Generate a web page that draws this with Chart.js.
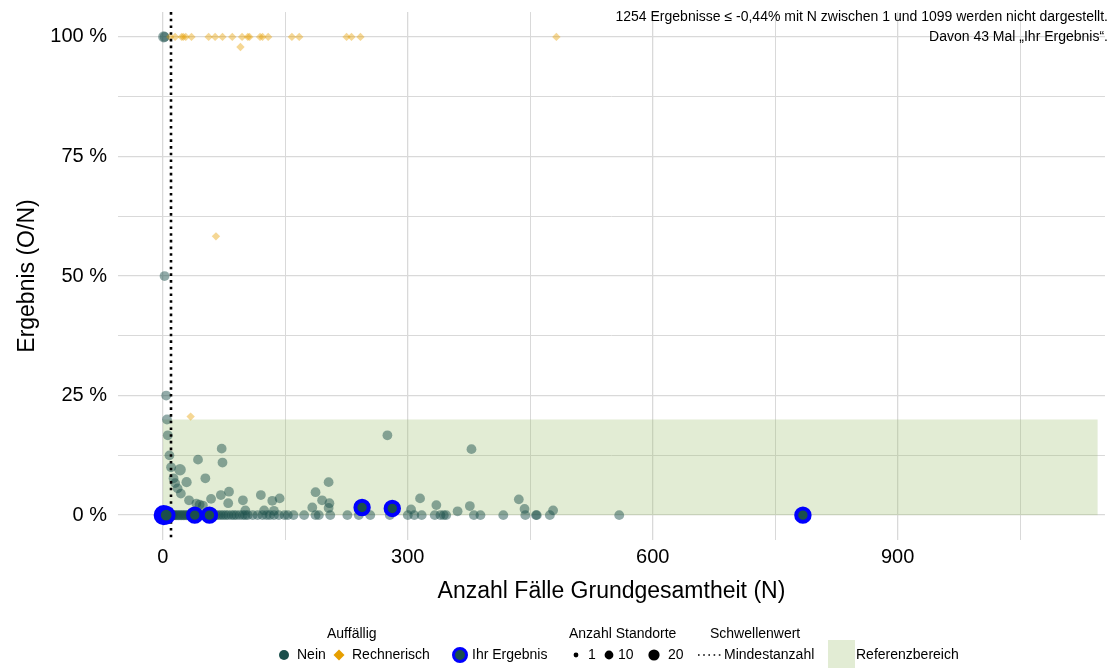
<!DOCTYPE html>
<html><head><meta charset="utf-8">
<script src="https://cdn.jsdelivr.net/npm/chart.js@4"></script>
<style>html,body{margin:0;padding:0;background:#fff}#wrap{width:1117px;height:668px;position:relative}</style>
</head><body><div id="wrap"><canvas id="c" width="1117" height="668"></canvas></div>
<script>
// ---- data ----
const neinN = [1, 2, 2, 4, 5, 6, 8, 10, 21, 13, 15, 29, 18, 22, 43, 52, 72, 73, 32, 41, 45, 49, 59, 71, 81, 80, 98, 101, 120, 134, 143, 124, 136, 187, 195, 203, 204, 203, 183, 275, 304, 315, 335, 361, 376, 378, 436, 443, 478,
  1, 2, 3, 4, 5, 6, 7, 8, 9, 10, 11, 12, 13, 15, 17, 19, 21, 23, 25, 27, 29, 31, 33, 36, 39, 42, 45, 48, 51, 54, 57, 61, 65, 68, 71, 74, 77, 80, 84, 87, 90, 94, 98, 101, 104, 110, 116, 122, 127, 131, 136, 142, 149, 153, 160, 173, 187, 191, 205, 226, 240, 254, 278, 300, 308, 317, 333, 340, 344, 347, 381, 389, 417, 444, 457, 458, 474, 559];
const neinY = [100, 100, 50, 25, 20, 16.7, 12.5, 10, 9.5, 7.7, 6.7, 6.9, 5.6, 4.5, 11.6, 7.7, 13.9, 11.0, 3.1, 2.4, 2.2, 2.0, 3.4, 4.2, 4.9, 2.5, 3.1, 1.0, 4.2, 3.0, 3.5, 1.0, 0.9, 4.8, 3.1, 6.9, 2.5, 1.5, 1.6, 16.7, 1.2, 3.5, 2.1, 0.8, 1.9, 13.8, 3.3, 1.3, 1.0,
  0, 0, 0, 0, 0, 0, 0, 0, 0, 0, 0, 0, 0, 0, 0, 0, 0, 0, 0, 0, 0, 0, 0, 0, 0, 0, 0, 0, 0, 0, 0, 0, 0, 0, 0, 0, 0, 0, 0, 0, 0, 0, 0, 0, 0, 0, 0, 0, 0, 0, 0, 0, 0, 0, 0, 0, 0, 0, 0, 0, 0, 0, 0, 0, 0, 0, 0, 0, 0, 0, 0, 0, 0, 0, 0, 0, 0, 0];
const neinS = [22, 15, 15, 15, 15, 15, 15, 15, 24, 15, 15, 17, 15, 15, 15, 15, 15, 15, 15, 15, 15, 15, 15, 15, 15, 15, 15, 15, 15, 15, 15, 15, 15, 15, 15, 15, 15, 15, 15, 15, 15, 15, 15, 15, 15, 15, 15, 15, 15,
  30, 30, 28, 26, 24, 22, 20, 20, 20, 18, 18, 18, 16, 16, 16, 16, 16, 16, 16, 16, 16, 15, 15, 15, 15, 15, 15, 15, 15, 15, 15, 15, 15, 15, 15, 15, 15, 15, 15, 15, 15, 15, 15, 15, 15, 15, 15, 15, 15, 15, 15, 15, 15, 15, 15, 15, 15, 15, 15, 15, 15, 15, 15, 15, 15, 15, 15, 15, 15, 15, 15, 15, 15, 15, 15, 15, 15, 15];
const rechN = [9, 15, 23, 25, 28, 35, 56, 64, 73, 85, 97, 104, 106, 119, 122, 129, 158, 167, 225, 231, 242, 482, 95, 65, 34];
const rechY = [100, 100, 100, 100, 100, 100, 100, 100, 100, 100, 100, 100, 100, 100, 100, 100, 100, 100, 100, 100, 100, 100, 97.9, 58.3, 20.6];
const ihrN = [1, 4, 39, 57, 244, 281, 784];
const ihrY = [0, 0, 0, 0, 1.6, 1.4, 0];
const ihrS = [30, 22, 15, 15, 15, 15, 15];
const mindestanzahl = 10;
const refRange = [0, 20];
const refMaxN = 1145;
const xGridValues = [0, 150, 300, 450, 600, 750, 900, 1050];
const xTickLabels = [0, 300, 600, 900];
const yGridValues = [0, 12.5, 25, 37.5, 50, 62.5, 75, 87.5, 100];
const yTickLabels = [0, 25, 50, 75, 100];
const legendSizes = [1, 10, 20];

const TEAL = '#1b4f4c';
const TEAL_A = 'rgba(27,79,76,0.48)';
const ORANGE = '#E69F00';
const ORANGE_A = 'rgba(230,159,0,0.42)';
const REF_FILL = 'rgba(158,192,112,0.30)';
const FONT = '"Liberation Sans", Arial, Helvetica, sans-serif';
const rOf = s => 1.6 + 0.85 * Math.sqrt(s);

const pts = (xs, ys) => xs.map((x, i) => ({x: x, y: ys[i]}));

const overlay = {
  id: 'overlay',
  beforeDatasetsDraw(chart) {
    const {ctx, scales: {x, y}} = chart;
    ctx.save();
    ctx.fillStyle = REF_FILL;
    const x0 = x.getPixelForValue(0), x1 = x.getPixelForValue(refMaxN);
    const y0 = y.getPixelForValue(refRange[1]), y1 = y.getPixelForValue(refRange[0]);
    ctx.fillRect(x0, y0, x1 - x0, y1 - y0);
    ctx.restore();
  },
  afterDatasetDraw(chart, args) {
    if (args.index !== 1) return;
    const {ctx, chartArea, scales: {x}} = chart;
    ctx.save();
    ctx.strokeStyle = '#000';
    ctx.lineWidth = 2.6;
    ctx.setLineDash([2.6, 4.1]);
    const px = Math.round(x.getPixelForValue(mindestanzahl));
    ctx.beginPath();
    ctx.moveTo(px, chartArea.top);
    ctx.lineTo(px, chartArea.bottom);
    ctx.stroke();
    ctx.restore();
  },
  afterDraw(chart) {
    const {ctx, chartArea} = chart;
    ctx.save();
    ctx.fillStyle = '#000';
    // axis titles
    ctx.font = '23px ' + FONT;
    ctx.textAlign = 'center';
    ctx.textBaseline = 'middle';
    ctx.fillText('Anzahl Fälle Grundgesamtheit (N)', (chartArea.left + chartArea.right) / 2, 592);
    ctx.save();
    ctx.translate(28, (chartArea.top + chartArea.bottom) / 2);
    ctx.rotate(-Math.PI / 2);
    ctx.fillText('Ergebnis (O/N)', 0, 0);
    ctx.restore();
    // annotation
    ctx.font = '14px ' + FONT;
    ctx.textAlign = 'right';
    ctx.fillText('1254 Ergebnisse ≤ -0,44% mit N zwischen 1 und 1099 werden nicht dargestellt.', 1108, 17);
    ctx.fillText('Davon 43 Mal „Ihr Ergebnis“.', 1108, 37);
    // legend
    ctx.textAlign = 'left';
    const ty = 634, ry = 655;
    ctx.fillText('Auffällig', 327, ty);
    ctx.fillText('Anzahl Standorte', 569, ty);
    ctx.fillText('Schwellenwert', 710, ty);
    ctx.fillStyle = TEAL;
    ctx.beginPath(); ctx.arc(284, ry, 5, 0, Math.PI * 2); ctx.fill();
    ctx.fillStyle = ORANGE;
    ctx.beginPath(); ctx.moveTo(339 - 5.5, ry); ctx.lineTo(339, ry - 5.5); ctx.lineTo(339 + 5.5, ry); ctx.lineTo(339, ry + 5.5); ctx.closePath(); ctx.fill();
    ctx.fillStyle = TEAL; ctx.strokeStyle = '#0000ff'; ctx.lineWidth = 3;
    ctx.beginPath(); ctx.arc(460, ry, 6.5, 0, Math.PI * 2); ctx.fill(); ctx.stroke();
    ctx.fillStyle = '#000';
    ctx.fillText('Nein', 297, ry);
    ctx.fillText('Rechnerisch', 352, ry);
    ctx.fillText('Ihr Ergebnis', 472, ry);
    const sizeX = [576, 609, 654], sizeTx = [588, 618, 668];
    legendSizes.forEach((s, i) => {
      ctx.beginPath(); ctx.arc(sizeX[i], ry, [2.4, 4.4, 5.6][i], 0, Math.PI * 2); ctx.fill();
      ctx.fillText(String(s), sizeTx[i], ry);
    });
    ctx.strokeStyle = '#000'; ctx.lineWidth = 1.6; ctx.setLineDash([1.6, 3.6]);
    ctx.beginPath(); ctx.moveTo(698, ry); ctx.lineTo(724, ry); ctx.stroke();
    ctx.setLineDash([]);
    ctx.fillText('Mindestanzahl', 724, ry);
    ctx.fillStyle = 'rgb(226,236,212)';
    ctx.fillRect(828, 640, 27, 28);
    ctx.fillStyle = '#000';
    ctx.fillText('Referenzbereich', 856, ry);
    ctx.restore();
  }
};

new Chart(document.getElementById('c'), {
  type: 'scatter',
  data: {
    datasets: [
      {
        label: 'Nein',
        data: pts(neinN, neinY),
        order: 3,
        backgroundColor: TEAL_A,
        borderWidth: 0,
        pointStyle: 'circle',
        pointRadius: ctx => rOf(neinS[ctx.dataIndex] || 15)
      },
      {
        label: 'Rechnerisch',
        data: pts(rechN, rechY),
        order: 2,
        backgroundColor: ORANGE_A,
        borderWidth: 0,
        pointStyle: 'rectRot',
        pointRadius: 4.2
      },
      {
        label: 'Ihr Ergebnis',
        data: pts(ihrN, ihrY),
        order: 1,
        backgroundColor: TEAL,
        borderColor: '#0000ff',
        borderWidth: 4,
        pointStyle: 'circle',
        pointRadius: ctx => rOf(ihrS[ctx.dataIndex] || 15) + 1.8
      }
    ]
  },
  options: {
    responsive: false,
    animation: false,
    devicePixelRatio: 1,
    events: [],
    layout: {padding: {top: 10, right: 7, left: 0, bottom: 0}},
    plugins: {legend: {display: false}, tooltip: {enabled: false}, title: {display: false}},
    scales: {
      x: {
        type: 'linear', min: -55, max: 1154,
        afterBuildTicks: s => { s.ticks = xGridValues.map(v => ({value: v})); },
        afterFit: s => { s.height = 128; s.paddingLeft = 0; s.paddingRight = 0; },
        border: {display: false},
        grid: {color: '#d9d9d9', lineWidth: c => (xTickLabels.includes(c.tick && c.tick.value) ? 1.3 : 1), drawTicks: false},
        ticks: {
          autoSkip: false, maxRotation: 0, padding: 5, color: '#000',
          font: {family: FONT, size: 20},
          callback: v => (xTickLabels.includes(v) ? String(v) : '')
        }
      },
      y: {
        type: 'linear', min: -5.2, max: 105.2,
        afterBuildTicks: s => { s.ticks = yGridValues.map(v => ({value: v})); },
        afterFit: s => { s.width = 118; s.paddingTop = 0; s.paddingBottom = 0; },
        border: {display: false},
        grid: {color: '#d9d9d9', lineWidth: c => (yTickLabels.includes(c.tick && c.tick.value) ? 1.3 : 1), drawTicks: false},
        ticks: {
          autoSkip: false, padding: 11, color: '#000',
          font: {family: FONT, size: 20},
          callback: v => (yTickLabels.includes(v) ? v + ' %' : '')
        }
      }
    }
  },
  plugins: [overlay]
});
</script></body></html>
